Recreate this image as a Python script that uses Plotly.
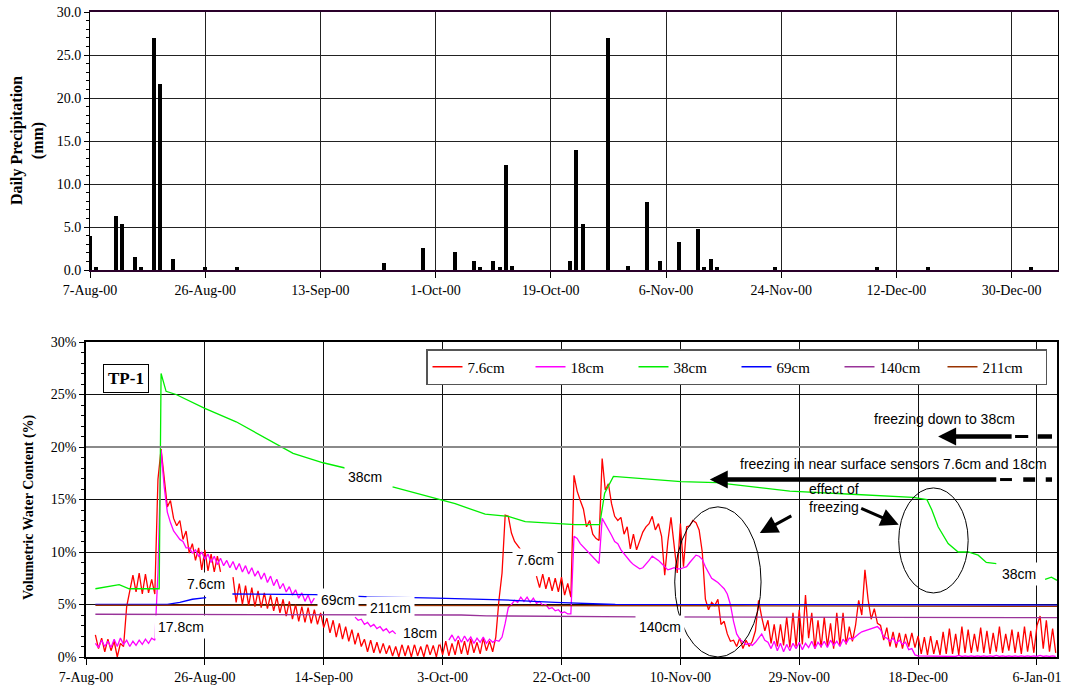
import numpy as np
import pandas as pd
import plotly.graph_objects as go

# ---------------- daily precipitation (mm) ----------------
rain_dates = ["2000-08-08", "2000-08-09", "2000-08-12", "2000-08-13", "2000-08-15", "2000-08-16",
              "2000-08-18", "2000-08-19", "2000-08-21", "2000-08-26", "2000-08-31",
              "2000-09-23", "2000-09-29", "2000-10-04", "2000-10-07", "2000-10-08", "2000-10-10",
              "2000-10-11", "2000-10-12", "2000-10-13", "2000-10-22", "2000-10-23", "2000-10-24",
              "2000-10-28", "2000-10-31", "2000-11-03", "2000-11-05", "2000-11-08", "2000-11-11",
              "2000-11-12", "2000-11-13", "2000-11-14", "2000-11-23", "2000-12-09", "2000-12-17",
              "2001-01-02"]
rain_mm = [3.9, 0.3, 6.3, 5.3, 1.5, 0.3, 27.0, 21.6, 1.3, 0.3, 0.3,
           0.8, 2.6, 2.1, 1.0, 0.3, 1.0, 0.3, 12.2, 0.5, 1.0, 14.0, 5.3,
           27.0, 0.5, 7.9, 1.0, 3.3, 4.8, 0.3, 1.3, 0.3, 0.3, 0.3, 0.3, 0.3]

rain_tick_dates = ["2000-08-08", "2000-08-26", "2000-09-13", "2000-10-01", "2000-10-19",
                   "2000-11-06", "2000-11-24", "2000-12-12", "2000-12-30"]
rain_tick_labels = ["7-Aug-00", "26-Aug-00", "13-Sep-00", "1-Oct-00", "19-Oct-00",
                    "6-Nov-00", "24-Nov-00", "12-Dec-00", "30-Dec-00"]

# ---------------- volumetric water content (%) ----------------
# readings every 12 h starting 1.5 days after 7-Aug-00
vwc_7_6cm = [
    2.1, 0.8, 1.8, 0.5, 1.7, 0.6, 1.5, 0.0, 1.3, 1.0,
    4.8, 6.3, 7.8, 6.2, 8.0, 6.0, 7.9, 6.1, 7.4, 6.0,
    16.9, 19.8, 17.0, 14.3, 14.9, 13.2, 12.5, 13.0, 11.2, 12.0,
    9.9, 10.8, 9.2, 10.4, 8.3, 10.2, 8.2, 9.8, 8.1, 9.6,
    8.1, None, None, None, 7.6, 5.2, 7.0, 5.0, 6.8, 4.9,
    6.6, 4.8, 6.3, 4.7, 6.1, 4.6, 5.9, 4.4, 5.7, 4.2,
    5.5, 3.9, 5.3, 3.6, 5.0, 3.4, 4.8, 3.3, 4.7, 3.2,
    4.5, 3.1, 4.2, 2.8, 3.7, 2.3, 3.5, 1.9, 3.2, 1.7,
    2.9, 1.5, 2.6, 1.2, 2.3, 1.0, 1.7, 0.5, 1.6, 0.4,
    1.4, 0.35, 1.3, 0.3, 1.1, 0.1, 1.0, 0.0, 1.2, 0.1,
    1.1, 0.0, 1.2, 0.1, 1.0, 0.0, 1.3, 0.2, 1.1, 0.0,
    1.4, 0.2, 1.5, 0.1, 1.3, 0.2, 1.6, 0.3, 1.5, 0.2,
    1.7, 0.4, 1.4, 0.3, 1.8, 0.6, 1.5, 0.5, 1.9, 5.4,
    8.0, 13.5, 13.4, 11.8, 11.0, 10.6, 10.2, None, None, None,
    None, 7.7, 6.6, 7.9, 6.5, 7.6, 6.3, 7.5, 6.2, 7.6,
    5.9, 7.0, 5.7, 17.3, 15.8, 14.9, 14.1, 12.4, 13.0, 11.7,
    11.3, 11.1, 18.9, 15.9, 16.5, 14.6, 13.4, 13.0, 13.3, 11.7,
    12.4, 10.3, 11.7, 10.2, 11.1, 11.9, 12.4, 12.7, 13.4, 12.1,
    12.7, 11.5, 7.8, 11.0, 13.3, 10.5, 8.0, 12.7, 8.6, 12.4,
    12.5, 13.0, 12.8, 12.1, 10.0, 5.5, 4.5, 5.2, 4.9, 5.5,
    3.1, 3.4, 2.2, 1.5, 1.6, 1.0, 1.8, 0.8, 1.6, 1.0,
    1.5, 2.5, 5.4, 3.8, 2.5, 3.5, 1.3, 3.1, 1.0, 3.1,
    1.1, 3.8, 0.9, 4.2, 1.0, 4.5, 1.2, 5.9, 1.8, 4.2,
    0.8, 3.5, 0.9, 3.8, 1.0, 3.2, 0.8, 4.2, 1.1, 4.2,
    1.2, 2.9, 1.5, 3.0, 5.4, 4.0, 8.3, 5.5, 3.6, 4.6,
    3.2, 3.0, 1.6, 2.8, 1.0, 2.4, 0.9, 2.3, 0.8, 2.2,
    1.0, 2.3, 0.9, 2.0, 0.3, 1.9, 0.2, 2.0, 0.3, 1.6,
    0.2, 2.4, 0.3, 2.7, 0.3, 2.2, 0.2, 2.9, 0.4, 2.6,
    0.4, 2.2, 0.5, 2.8, 0.4, 2.5, 0.3, 2.3, 0.5, 2.9,
    0.4, 2.2, 0.6, 2.6, 0.4, 2.4, 0.3, 2.9, 0.5, 2.5,
    0.4, 3.0, 3.9, 0.8, 3.5, 0.5, 2.7, 0.4,
]
vwc_18cm = [
    1.3, 0.9, 1.6, 1.0, 1.5, 0.9, 1.7, 1.0, 1.8, 1.2,
    1.6, 1.0, 1.5, 1.1, 1.6, 1.2, 1.7, 1.3, 1.8, 1.6,
    8.0, 19.7, 16.2, 13.8, 12.8, 12.0, 11.6, 11.2, 11.0, 10.4,
    10.4, 9.9, 10.2, 9.6, 10.0, 9.3, 9.8, 9.0, 9.6, 8.8,
    9.4, 8.7, 9.2, 8.5, 9.1, 8.3, 8.9, 8.1, 8.7, 7.9,
    8.5, 7.7, 8.2, 7.4, 8.0, 7.1, 7.7, 6.8, 7.4, 6.5,
    7.0, 6.2, 6.7, 5.9, 6.4, 5.6, 6.1, 5.3, 5.9, 5.1,
    5.6, None, None, None, None, None, None, None, None, None,
    None, None, None, 3.8, 3.5, 3.6, 3.1, 3.3, 2.9, 3.1,
    2.7, 2.9, 2.5, 2.7, 2.3, 2.5, 2.2, None, None, None,
    None, None, None, None, None, None, None, None, None, None,
    None, None, None, 1.6, 2.1, 1.5, 2.0, 1.4, 2.0, 1.5,
    1.9, 1.3, 1.8, 1.4, 1.9, 1.3, 1.7, 1.4, 1.6, 1.5,
    1.9, 3.2, 4.7, 5.0, 5.4, 5.2, 5.7, 5.3, 5.7, 5.2,
    5.6, 5.1, 5.3, 4.9, 5.0, 4.6, 4.7, 4.4, 4.5, 4.2,
    4.3, 4.1, 4.1, 11.5, 11.3, 10.8, 10.5, 10.2, 9.8, 9.5,
    9.2, 8.9, 13.2, 12.7, 12.2, 11.6, 11.0, 10.8, 10.2, 9.8,
    9.4, 9.1, 8.8, 8.6, 8.4, 8.5, 8.8, 9.2, 9.6, 9.4,
    9.2, 8.9, 8.6, 8.3, 8.4, 8.5, 8.4, 8.4, 8.5, 8.6,
    9.0, 9.4, 9.7, 9.6, 9.3, 8.6, 8.0, 7.5, 7.3, 7.1,
    6.8, 6.5, 6.0, 5.0, 3.4, 2.2, 1.7, 1.4, 1.2, 1.3,
    1.1, 1.4, 1.8, 2.2, 1.6, 1.4, 0.8, 1.5, 0.6, 1.3,
    0.5, 1.2, 0.6, 1.3, 0.8, 1.4, 0.7, 1.3, 0.9, 1.5,
    0.8, 1.4, 1.0, 1.5, 0.9, 1.6, 1.1, 1.5, 1.0, 1.7,
    1.3, 1.8, 1.7, 2.0, 2.2, 2.4, 2.5, 2.6, 2.7, 2.8,
    2.9, 2.6, 1.9, 1.8, 1.5, 1.8, 1.3, 1.6, 1.2, 1.4,
    0.7, 0.8, 0.2, 0.1, 0.1, 0.05, 0.1, 0.05, 0.1, 0.05,
    0.1, 0.05, 0.1, 0.05, 0.1, 0.05, 0.15, 0.05, 0.1, 0.05,
    0.1, 0.05, 0.1, 0.05, 0.1, 0.05, 0.1, 0.05, 0.15, 0.05,
    0.1, 0.05, 0.1, 0.05, 0.1, 0.05, 0.1, 0.05, 0.1, 0.05,
    0.1, 0.05, 0.15, 0.05, 0.1, 0.05, 0.1, 0.05,
]

# smoother deep sensors: (days after 7-Aug-00, value)
vwc_38cm_day = [1.5, 5.3, 6.9, 11.7, 12.0, 12.8, 14.4, 18.9, 24.0, 28.8, 33.1, 37.9, 41.4, None,
                49.0, 54.4, 59.0, 63.8, 67.5, 70.2, 76.0, 78.2, 82.1, 82.9, 84.3, 91.7, 95.1,
                100.8, 112.5, 122.4, 127.7, 132.2, 134.4, 135.2, 136.2, 137.8, 139.4, 141.0,
                142.6, 143.9, 145.5, None, 153.3, 154.3, 155.2]
vwc_38cm = [6.5, 6.9, 6.5, 6.5, 27.0, 25.3, 25.0, 23.7, 22.4, 20.8, 19.4, 18.5, 18.0, None,
            16.2, 15.3, 14.6, 13.6, 13.4, 12.9, 12.7, 12.6, 12.6, 15.6, 17.2, 16.9, 16.7,
            16.6, 15.8, 15.5, 15.3, 15.2, 15.0, 14.0, 12.4, 10.8, 10.0, 10.0,
            9.7, 9.0, 8.9, None, 7.4, 7.6, 7.3]

vwc_69cm_day = [1.5, 13.0, 15.0, 17.0, 19.2, None, 23.4, 36.6, 44.6, 50.7, 56.0, 66.5, 75.0, 84.6, 120.0, 155.2]
vwc_69cm = [5.02, 5.02, 5.2, 5.5, 5.65, None, 6.0, 5.95, 5.75, 5.7, 5.6, 5.45, 5.2, 5.0, 4.98, 4.95]

vwc_140cm_day = [1.5, 60.0, 64.0, 73.0, 88.0, 155.2]
vwc_140cm = [4.07, 4.0, 3.92, 3.88, 3.82, 3.75]

vwc_211cm_day = [1.5, 60.0, 100.0, 155.2]
vwc_211cm = [4.93, 4.93, 4.88, 4.82]

vwc_tick_dates = ["2000-08-07", "2000-08-26", "2000-09-14", "2000-10-03", "2000-10-22",
                  "2000-11-10", "2000-11-29", "2000-12-18", "2001-01-06"]
vwc_tick_labels = ["7-Aug-00", "26-Aug-00", "14-Sep-00", "3-Oct-00", "22-Oct-00",
                   "10-Nov-00", "29-Nov-00", "18-Dec-00", "6-Jan-01"]

# ---------------- helpers ----------------
T0 = pd.Timestamp("2000-08-07")


def day(d):
    if d is None:
        return None
    return (T0 + pd.Timedelta(days=d)).round("min").strftime("%Y-%m-%d %H:%M")


def half_day_times(n):
    return [day(1.5 + 0.5 * i) for i in range(n)]


SERIF = "Liberation Serif"
SANS = "Liberation Sans"
W, H = 1065, 692

fig = go.Figure()

fig.add_trace(go.Bar(
    x=rain_dates, y=rain_mm, xaxis="x", yaxis="y",
    marker=dict(color="black", line=dict(width=0)),
    width=0.62 * 86400000, showlegend=False, name="precip"))

series = [
    ("7.6cm", half_day_times(len(vwc_7_6cm)), vwc_7_6cm, "#ff0000"),
    ("18cm", half_day_times(len(vwc_18cm)), vwc_18cm, "#ff00ff"),
    ("38cm", [day(d) for d in vwc_38cm_day], vwc_38cm, "#00ee00"),
    ("69cm", [day(d) for d in vwc_69cm_day], vwc_69cm, "#0000ff"),
    ("140cm", [day(d) for d in vwc_140cm_day], vwc_140cm, "#993399"),
    ("211cm", [day(d) for d in vwc_211cm_day], vwc_211cm, "#993300"),
]
for name, xs, ys, col in series:
    fig.add_trace(go.Scatter(
        x=xs, y=ys, name=name, mode="lines", xaxis="x2", yaxis="y2",
        line=dict(color=col, width=1.3), connectgaps=False))

axis_font = dict(family=SERIF, size=14, color="black")

fig.update_layout(
    width=W, height=H, autosize=False,
    margin=dict(l=0, r=0, t=0, b=0),
    paper_bgcolor="white", plot_bgcolor="white",
    bargap=0,
    xaxis=dict(domain=[90 / W, 1058 / W], anchor="y", type="date",
               range=["2000-08-08", "2001-01-06 06:00"],
               tickmode="array", tickvals=rain_tick_dates, ticktext=rain_tick_labels,
               ticks="outside", ticklen=6, tickcolor="black",
               showgrid=True, gridcolor="#222222", gridwidth=1,
               showline=True, linecolor="#2a002a", linewidth=1.5, mirror=True,
               zeroline=False, tickfont=axis_font, automargin=False),
    yaxis=dict(domain=[1 - 270 / H, 1 - 12 / H], anchor="x", range=[0, 30],
               tick0=0, dtick=5, tickformat=".1f",
               ticks="outside", ticklen=5, tickcolor="black",
               minor=dict(dtick=1, tick0=0, ticks="outside", ticklen=3, tickcolor="black", showgrid=False),
               showgrid=True, gridcolor="#222222", gridwidth=1,
               showline=True, linecolor="black", linewidth=1, mirror=True,
               zeroline=False, tickfont=axis_font, automargin=False),
    xaxis2=dict(domain=[86 / W, 1057 / W], anchor="y2", type="date",
                range=["2000-08-07", "2001-01-09 04:48"],
                tickmode="array", tickvals=vwc_tick_dates, ticktext=vwc_tick_labels,
                ticks="outside", ticklen=6, tickcolor="black",
                showgrid=True, gridcolor="#111111", gridwidth=1,
                showline=True, linecolor="black", linewidth=1.5, mirror=True,
                zeroline=False, tickfont=axis_font, automargin=False),
    yaxis2=dict(domain=[1 - 657 / H, 1 - 342 / H], anchor="x2", range=[0, 30],
                tick0=0, dtick=5, ticksuffix="%",
                ticks="outside", ticklen=5, tickcolor="black",
                minor=dict(dtick=1, tick0=0, ticks="outside", ticklen=3, tickcolor="black", showgrid=False),
                showgrid=True, gridcolor="#111111", gridwidth=1,
                showline=True, linecolor="black", linewidth=1.5, mirror=True,
                zeroline=False, tickfont=axis_font, automargin=False),
    legend=dict(orientation="h", x=426 / W, y=1 - 349 / H, xanchor="left", yanchor="top",
                bgcolor="white", bordercolor="#555555", borderwidth=1.5,
                font=dict(family=SERIF, size=15, color="black"),
                entrywidth=58, entrywidthmode="pixels", itemwidth=30, traceorder="normal"),
    showlegend=True,
)

shapes = [
    # 20 % gridline drawn in grey
    dict(type="line", xref="x2", x0="2000-08-07", x1="2001-01-09 04:48", yref="y2", y0=20, y1=20,
         line=dict(color="#8a8a8a", width=2), layer="above"),
    # freezing zones
    dict(type="circle", xref="x2", yref="y2", x0=day(94.1), x1=day(107.9), y0=0.0, y1=14.3,
         line=dict(color="black", width=1)),
    dict(type="circle", xref="x2", yref="y2", x0=day(129.9), x1=day(141.0), y0=6.1, y1=16.1,
         line=dict(color="black", width=1)),
]
# dashed tails of the freezing-front arrows
for x0, x1, yv, wd in [(148.5, 150.6, 21.0, 3), (152.1, 154.4, 21.0, 4.5),
                       (146.1, 148.0, 16.9, 3), (149.8, 151.7, 16.9, 4.5), (153.4, 154.4, 16.9, 4.5)]:
    shapes.append(dict(type="line", xref="x2", yref="y2", x0=day(x0), x1=day(x1), y0=yv, y1=yv,
                       line=dict(color="black", width=wd)))

ann = []
# axis titles
ann.append(dict(text="<b>Daily Precipitation<br>(mm)</b>", x=27 / W, y=1 - 141 / H,
                xref="paper", yref="paper", xanchor="center", yanchor="middle",
                textangle=-90, showarrow=False,
                font=dict(family=SERIF, size=16, color="black")))
ann.append(dict(text="<b>Volumetric Water Content (%)</b>", x=29 / W, y=1 - 507 / H,
                xref="paper", yref="paper", xanchor="center", yanchor="middle",
                textangle=-90, showarrow=False,
                font=dict(family=SERIF, size=14, color="black")))
# site tag
ann.append(dict(text="<b>TP-1</b>", x=126 / W, y=1 - 378 / H, xref="paper", yref="paper",
                xanchor="center", yanchor="middle",
                showarrow=False, bgcolor="white", bordercolor="black", borderwidth=1, borderpad=4,
                font=dict(family=SERIF, size=17, color="black")))

# sensor depth labels
depth_labels = [("38cm", 44.67, 17.11), ("7.6cm", 19.18, 7.0), ("17.8cm", 15.18, 2.89),
                ("69cm", 40.32, 5.43), ("211cm", 48.71, 4.64), ("18cm", 53.38, 2.25),
                ("7.6cm", 71.76, 9.24), ("140cm", 91.73, 2.89), ("38cm", 149.1, 7.9)]
for txt, d, v in depth_labels:
    ann.append(dict(text=txt, x=day(d), y=v, xref="x2", yref="y2", showarrow=False,
                    xanchor="center", yanchor="middle", bgcolor="white", borderpad=3,
                    font=dict(family=SANS, size=14, color="black")))

# freezing notes
ann.append(dict(text="freezing in near surface sensors 7.6cm and 18cm", x=day(104.2), y=18.35,
                xref="x2", yref="y2", xanchor="left", yanchor="middle", showarrow=False,
                font=dict(family=SANS, size=14, color="black")))
ann.append(dict(text="freezing down to 38cm", x=day(125.7), y=22.64,
                xref="x2", yref="y2", xanchor="left", yanchor="middle", showarrow=False,
                font=dict(family=SANS, size=14, color="black")))
ann.append(dict(text="effect of<br>freezing", x=day(115.2), y=15.14, align="left",
                xref="x2", yref="y2", xanchor="left", yanchor="middle", showarrow=False,
                font=dict(family=SANS, size=14, color="black")))

# arrows
for d, v, ax, ay, w, s in [(136.2, 21.0, 75, 0, 4.5, 0.8), (99.7, 16.9, 288, 0, 4.5, 0.8),
                           (107.7, 11.8, 33, -18, 3, 1.2), (129.9, 12.6, -39, -17, 3, 1.2)]:
    ann.append(dict(text="", x=day(d), y=v, xref="x2", yref="y2", ax=ax, ay=ay,
                    showarrow=True, arrowhead=2, arrowsize=s, arrowwidth=w, arrowcolor="black"))

fig.update_layout(shapes=shapes, annotations=ann)

fig.write_html("out.html")
